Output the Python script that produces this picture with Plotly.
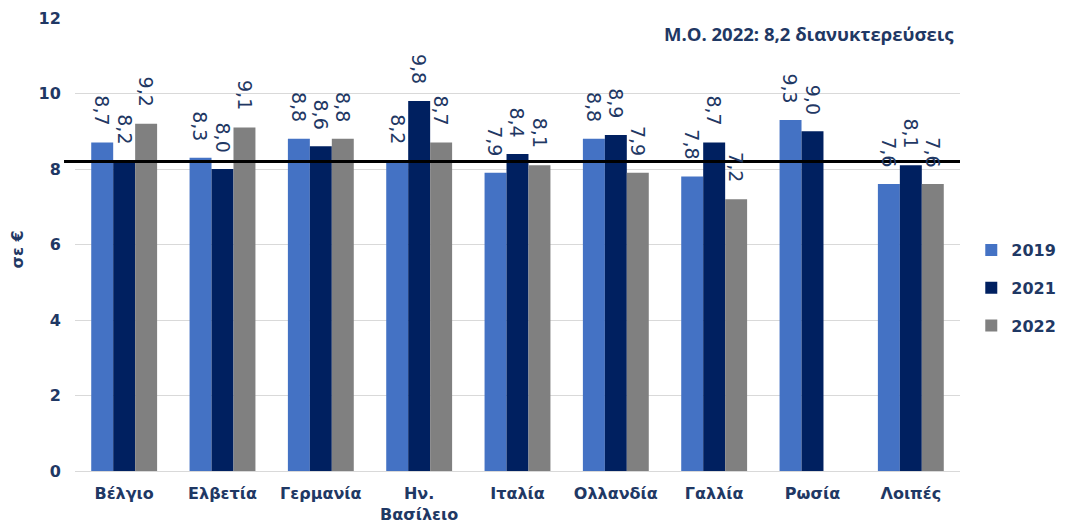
import plotly.graph_objects as go

countries = ["Βέλγιο", "Ελβετία", "Γερμανία", "Ην.<br>Βασίλειο", "Ιταλία",
             "Ολλανδία", "Γαλλία", "Ρωσία", "Λοιπές"]
years = ["2019", "2021", "2022"]
v2019 = [8.7, 8.3, 8.8, 8.2, 7.9, 8.8, 7.8, 9.3, 7.6]
v2021 = [8.2, 8.0, 8.6, 9.8, 8.4, 8.9, 8.7, 9.0, 8.1]
v2022 = [9.2, 9.1, 8.8, 8.7, 8.1, 7.9, 7.2, None, 7.6]
avg_2022 = 8.2
y_ticks = [0, 2, 4, 6, 8, 10, 12]

colors = {"2019": "#4472C4", "2021": "#002060", "2022": "#808080"}
navy = "#1F3864"

W, H = 1065, 532
margin = dict(l=75, r=105, t=18, b=61)
bargap = 0.33

def fmt(v):
    return "" if v is None else f"{v:.1f}".replace(".", ",")

fig = go.Figure()
for yr, vals in zip(years, [v2019, v2021, v2022]):
    fig.add_trace(go.Bar(
        name=yr, x=countries, y=vals, legendgroup=yr,
        marker=dict(color=colors[yr], line=dict(width=0)),
    ))

# value labels, rotated, placed above each bar of the group
cat_px = (W - margin["l"] - margin["r"]) / len(countries)
bar_px = cat_px * (1 - bargap) / len(years)
for i, vals in enumerate([v2019, v2021, v2022]):
    offset = (i - (len(years) - 1) / 2) * bar_px
    for c, v in zip(countries, vals):
        if v is None:
            continue
        fig.add_annotation(
            x=c, y=v, xref="x", yref="y", text=fmt(v), showarrow=False,
            textangle=90, xanchor="center", yanchor="bottom",
            xshift=offset, yshift=15,
            font=dict(family="DejaVu Sans", size=19, color=navy),
        )

# 2022 average reference line
fig.add_shape(type="line", xref="paper", yref="y", x0=-0.0124, x1=1.0,
              y0=avg_2022, y1=avg_2022, line=dict(color="black", width=3))

fig.add_annotation(
    xref="paper", yref="paper", x=0.996, y=0.965, xanchor="right", yanchor="middle",
    text="<b>Μ.Ο. 2022: " + fmt(avg_2022) + " διανυκτερεύσεις</b>", showarrow=False,
    font=dict(family="Open Sans", size=18.5, color=navy),
)

# y-axis title
fig.add_annotation(
    xref="paper", yref="paper", x=-0.065, y=0.49, xanchor="center", yanchor="middle",
    text="<b>σε €</b>", showarrow=False, textangle=-90,
    font=dict(family="DejaVu Sans", size=16, color=navy),
)

fig.update_layout(
    width=W, height=H,
    margin=margin,
    paper_bgcolor="white", plot_bgcolor="white",
    barmode="group", bargap=bargap, bargroupgap=0,
    showlegend=True,
    legend=dict(xref="container", yref="container", x=0.912, xanchor="left",
                y=(H - 288) / H, yanchor="middle",
                font=dict(family="DejaVu Sans", size=16, color=navy, weight="bold"),
                tracegroupgap=14, itemwidth=30),
    xaxis=dict(tickfont=dict(family="DejaVu Sans", size=16, color=navy, weight="bold"),
               showline=True, linecolor="#D9D9D9", linewidth=1, ticks="",
               ticklabelstandoff=8, automargin=False),
    yaxis=dict(range=[0, 12], tickvals=y_ticks,
               tickfont=dict(family="DejaVu Sans", size=16, color=navy, weight="bold"),
               showgrid=True, gridcolor="#D9D9D9", gridwidth=1, zeroline=False,
               ticks="outside", ticklen=10, tickcolor="white", automargin=False),
)

fig.write_html("out.html")
